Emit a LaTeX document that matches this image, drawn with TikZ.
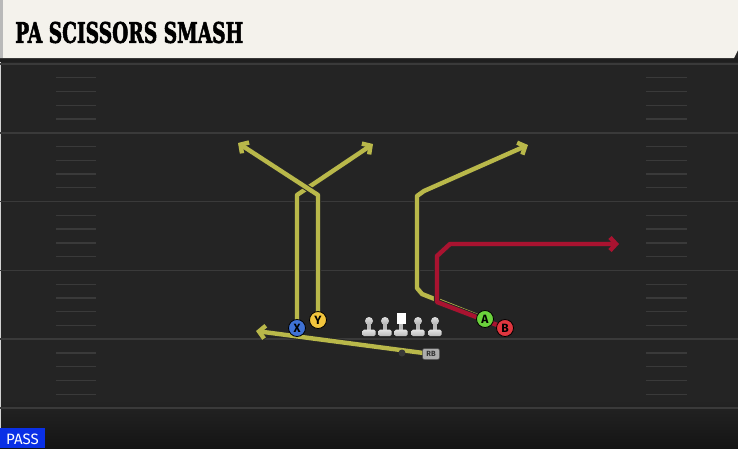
\documentclass[tikz,border=0pt]{standalone}
\usepackage{fontspec}
\usepackage{graphicx}
\newfontfamily\titlefont{DejaVu Serif}[BoldFeatures={FakeBold=2.5}]
\newfontfamily\labelfont{Fira Sans}
\usetikzlibrary{arrows.meta,calc}

\definecolor{fieldgray}{HTML}{242424}
\definecolor{linegray}{HTML}{3A3A3A}
\definecolor{headcream}{HTML}{F4F2EC}
\definecolor{routeyellow}{HTML}{B9B84A}
\definecolor{routered}{HTML}{A91330}
\definecolor{xblue}{HTML}{3F72D6}
\definecolor{yyellow}{HTML}{F2C53D}
\definecolor{agreen}{HTML}{6BD23C}
\definecolor{bred}{HTML}{E0363F}
\definecolor{passblue}{HTML}{0A30E6}

\pgfdeclarelayer{field}
\pgfdeclarelayer{routes}
\pgfsetlayers{field,routes,main}

\tikzset{
  player/.style={circle,draw=black,line width=0.8pt,minimum size=17pt,inner sep=0pt,
    font=\labelfont\bfseries\fontsize{12}{12}\selectfont},
  route/.style={line width=4.4pt,line join=bevel,
    preaction={draw=black!85,line width=6.4pt},
    -{Straight Barb[length=6pt,width=13pt]}},
  yardline/.style={linegray,line width=1.6pt},
  hashmark/.style={linegray,line width=1.3pt},
  lineman/.pic={
    \shade[top color=gray!25,bottom color=gray!60] (0,0) circle[radius=4];
    \fill[gray!55] (-2.2,3) rectangle (2.2,9);
    \shade[top color=gray!20,bottom color=gray!55,rounded corners=1.5pt] (-6.5,8.5) rectangle (6.5,15);
  },
  centerman/.pic={
    \fill[white] (-4.5,-8) rectangle (4.5,3);
    \fill[gray!55] (-2.2,3) rectangle (2.2,9);
    \shade[top color=gray!20,bottom color=gray!55,rounded corners=1.5pt] (-6.5,8.5) rectangle (6.5,15);
  }
}

\begin{document}
\begin{tikzpicture}[x=1pt,y=-1pt]
  \useasboundingbox (0,0) rectangle (738,448);

  \begin{pgfonlayer}{field}
    %field
    \fill[fieldgray] (0,0) rectangle (738,448);
    \shade[top color=fieldgray,bottom color=black!92] (0,400) rectangle (738,448);
    \draw[gray!35,line width=1pt] (0.5,58) -- (0.5,448);
    %yard lines
    \foreach \yl in {64,132.8,201.6,270.4,339.2,408}
      \draw[yardline] (0,\yl) -- (738,\yl);
    %hash marks
    \foreach \k in {1,...,24}{
      \pgfmathtruncatemacro{\r}{mod(\k,5)}
      \ifnum\r>0
        \draw[hashmark] (56,{64+13.76*\k}) -- (96,{64+13.76*\k});
        \draw[hashmark] (646,{64+13.76*\k}) -- (687,{64+13.76*\k});
      \fi
    }
    %header
    \fill[black!88] (0,58) rectangle (738,62);
    \fill[headcream] (0,0) -- (738,0) -- (738,50) -- (734,58) -- (0,58) -- cycle;
    \fill[gray!55] (0,0) rectangle (3,58);
  \end{pgfonlayer}

  \node[anchor=west,inner sep=0pt] (title) at (15,32.5)
    {\resizebox{228pt}{21pt}{\titlefont\bfseries PA SCISSORS SMASH}};

  %pass tag
  \fill[passblue] (0,428) rectangle (45,448);
  \node[text=white,inner sep=0pt,font=\labelfont\fontsize{15}{15}\selectfont] (pass) at (22.5,439) {PASS};

  %line
  \foreach \lx in {369,385,418,435}
    \pic at (\lx,321) {lineman};
  \pic at (401,321) {centerman};

  %backfield
  \node[circle,fill=gray!45!black,minimum size=7pt,inner sep=0pt] (qb) at (402,353) {};
  \node[rounded corners=2pt,fill=gray!65,draw=black!70,line width=0.5pt,minimum width=17pt,minimum height=11pt,
    inner sep=0pt,font=\labelfont\bfseries\fontsize{7.5}{7.5}\selectfont,text=black!80] (RB) at (431,354) {RB};

  %receivers
  \node[player,fill=xblue] (X) at (297,328) {X};
  \node[player,fill=yyellow] (Y) at (318,320) {Y};
  \node[player,fill=agreen] (A) at (485,319) {A};
  \node[player,fill=bred] (B) at (505,328) {B};

  \coordinate (rbend) at (256,331);
  \coordinate (xend) at (373,144);
  \coordinate (yend) at (238,143);
  \coordinate (aend) at (528,145);
  \coordinate (bfin) at (619,244);

  %routes
  \begin{pgfonlayer}{routes}
    \draw[route,routeyellow] (RB.center) -- (rbend);
    \draw[route,routeyellow] (X.center) -- (297,195) -- (xend);
    \draw[route,routeyellow] (Y.center) -- (318,195) -- (yend);
    \draw[route,routeyellow] (A.center) -- (422,294) -- (417,288) -- (417,196) -- (424,191) -- (aend);
    \draw[route,routered] (B.center) -- (437,302) -- (437,256) -- (450,244) -- (bfin);
  \end{pgfonlayer}
\end{tikzpicture}
\end{document}
